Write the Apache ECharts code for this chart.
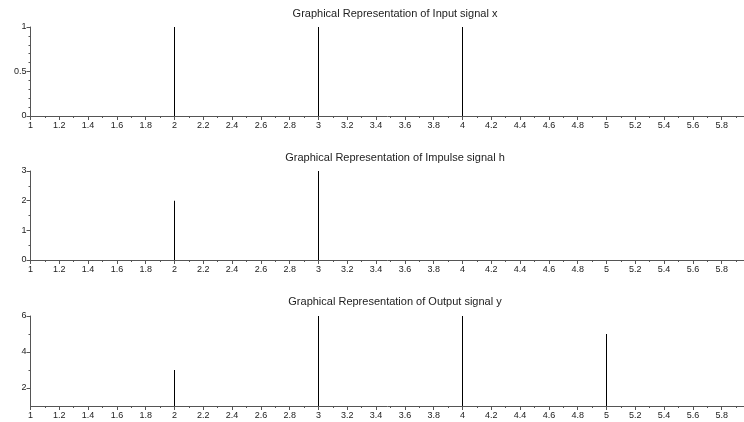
<!DOCTYPE html>
<html lang="en">
  <head>
    <meta charset="UTF-8" />
    <title>Convolution</title>
    <script src="https://cdn.jsdelivr.net/npm/echarts@6/dist/echarts.min.js"></script>
    <style>
      body { margin: 0; background: #fff; }
      #main { width: 744px; height: 422px; }
    </style>
  </head>
  <body>
    <div id="main"></div>
    <script>
      // signals
      var xN = [2, 3, 4];
      var xVals = [1, 1, 1];
      var hN = [2, 3];
      var hVals = [2, 3];
      var yN = [2, 3, 4, 5];
      var yVals = [3, 6, 6, 5];

      var titles = [
        'Graphical Representation of Input signal x',
        'Graphical Representation of Impulse signal h',
        'Graphical Representation of Output signal y',
      ];

      // tick labels
      var xMajor = [1, 1.2, 1.4, 1.6, 1.8, 2, 2.2, 2.4, 2.6, 2.8, 3, 3.2, 3.4, 3.6, 3.8,
        4, 4.2, 4.4, 4.6, 4.8, 5, 5.2, 5.4, 5.6, 5.8];
      var yMajor = [[0, 0.5, 1], [0, 1, 2, 3], [2, 4, 6]];
      var yRange = [[0, 1], [0, 3], [1, 6]];

      var xMinor = [];
      for (var i = 1; i < 50; i += 2) xMinor.push(Math.round(10 + i) / 10);
      var yMinor = [
        [0.1, 0.2, 0.3, 0.4, 0.6, 0.7, 0.8, 0.9],
        [0.5, 1.5, 2.5],
        [3, 5],
      ];

      var tops = [27, 171, 316];
      var heights = [89, 89, 90];
      var titleTops = [3, 147, 291];

      var font = 'Liberation Sans, Arial, sans-serif';
      var lineColor = '#555';

      var chart = echarts.init(document.getElementById('main'));

      var grid = [], xAxis = [], yAxis = [], title = [], series = [];
      var data = [
        xN.map(function (n, k) { return [n, xVals[k]]; }),
        hN.map(function (n, k) { return [n, hVals[k]]; }),
        yN.map(function (n, k) { return [n, yVals[k]]; }),
      ];

      for (var g = 0; g < 3; g++) {
        grid.push({
          left: 30.5, width: 720, top: tops[g], height: heights[g],
          outerBoundsMode: 'none', containLabel: false,
        });
        title.push({
          text: titles[g],
          left: 390,
          top: titleTops[g],
          textAlign: 'center',
          textStyle: { fontSize: 11, fontWeight: 'normal', color: '#222', fontFamily: font },
        });
        // major x
        xAxis.push({
          type: 'value', gridIndex: g, min: 1, max: 6, position: 'bottom',
          axisLine: { show: true, onZero: false, lineStyle: { color: lineColor } },
          axisTick: { show: true, length: 4, customValues: xMajor, lineStyle: { color: lineColor } },
          axisLabel: { customValues: xMajor, fontSize: 9, color: '#222', fontFamily: font, margin: 5 },
          splitLine: { show: false },
        });
        // minor x
        xAxis.push({
          type: 'value', gridIndex: g, min: 1, max: 6, position: 'bottom',
          axisLine: { show: false, onZero: false },
          axisTick: { show: true, length: 2, customValues: xMinor, lineStyle: { color: lineColor } },
          axisLabel: { show: false },
          splitLine: { show: false },
        });
        // major y
        yAxis.push({
          type: 'value', gridIndex: g, min: yRange[g][0], max: yRange[g][1], position: 'left',
          axisLine: { show: true, onZero: false, lineStyle: { color: lineColor } },
          axisTick: { show: true, length: 4, customValues: yMajor[g], lineStyle: { color: lineColor } },
          axisLabel: { customValues: yMajor[g], fontSize: 9, color: '#222', fontFamily: font, margin: 4 },
          splitLine: { show: false },
        });
        // minor y
        yAxis.push({
          type: 'value', gridIndex: g, min: yRange[g][0], max: yRange[g][1], position: 'left',
          axisLine: { show: false, onZero: false },
          axisTick: { show: true, length: 2, customValues: yMinor[g], lineStyle: { color: lineColor } },
          axisLabel: { show: false },
          splitLine: { show: false },
        });
        series.push({
          type: 'bar',
          xAxisIndex: g * 2,
          yAxisIndex: g * 2,
          barWidth: 1,
          itemStyle: { color: '#000' },
          data: data[g],
          silent: true,
        });
      }

      chart.setOption({
        animation: false,
        backgroundColor: '#fff',
        title: title,
        grid: grid,
        xAxis: xAxis,
        yAxis: yAxis,
        series: series,
      });
    </script>
  </body>
</html>
